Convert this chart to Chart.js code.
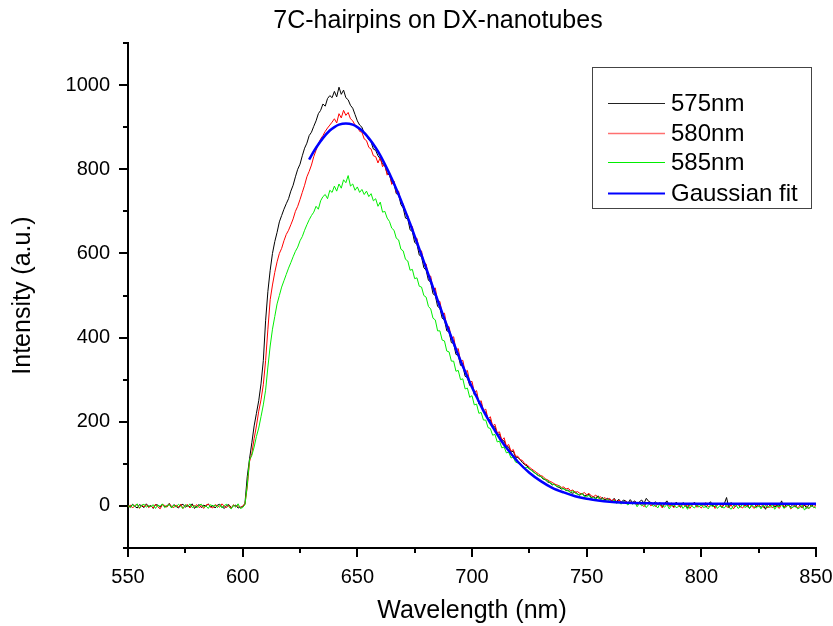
<!DOCTYPE html>
<html>
<head>
<meta charset="utf-8">
<title>7C-hairpins on DX-nanotubes</title>
<script src="https://cdn.jsdelivr.net/npm/chart.js@4.4.1/dist/chart.umd.min.js"></script>
<style>
  html, body { margin: 0; padding: 0; background: #fff; }
  #wrap { width: 833px; height: 626px; }
</style>
</head>
<body>
<div id="wrap"><canvas id="chart" width="833" height="626"></canvas></div>
<script>
/* ============================================================
   Emission spectra, 7C-hairpins on DX-nanotubes
   ============================================================ */

// ── Data (1 nm sampling 550..850) ────

const WL_FIRST = 550;
const WL_LAST = 850;

const spec575 = [
  2,-3,4,-1,-5,3,0,-4,5,-2,
  1,-6,3,2,-3,4,-2,0,6,-4,
  3,-1,-5,2,4,-3,1,-2,5,-6,
  0,3,-4,2,-1,5,-3,1,-5,2,
  4,-2,-6,1,3,-4,0,2,-5,-3,
  -2,6,70,112,150,190,220,250,290,345,
  440,510,560,600,628,650,675,690,705,718,
  730,748,762,782,800,812,832,850,862,880,
  888,902,915,932,940,955,950,968,975,970,
  985,972,995,978,988,970,965,952,945,930,
  915,905,900,885,880,870,865,848,845,832,
  825,812,808,790,786,768,765,742,740,716,
  708,684,682,656,652,626,622,596,592,566,
  560,536,532,504,500,474,470,446,442,416,
  414,388,386,360,358,334,333,308,305,286,
  286,264,265,242,243,224,223,204,205,188,
  188,170,171,154,155,141,140,128,130,116,
  115,110,103,98,95,88,85,80,76,72,
  70,64,62,57,55,50,52,46,44,40,
  42,36,38,32,30,34,28,26,30,24,
  25,28,20,22,18,24,16,20,14,18,
  15,12,18,10,16,8,14,12,6,15,
  8,12,4,10,14,6,18,11,8,5,
  10,3,8,-2,6,12,2,7,-3,9,
  4,-1,8,3,-4,6,2,9,-2,5,
  1,7,-3,4,10,0,-2,6,3,-4,
  5,20,-5,8,1,-1,4,-3,6,0,
  3,-6,2,7,-2,4,-4,1,-8,5,
  0,6,-3,2,-1,12,-5,3,1,-2,
  4,-3,7,0,-4,2,-6,5,-1,3,
  2
];

const spec580 = [
  -3,2,-5,1,4,-6,2,-2,3,-4,
  0,-5,4,-2,-7,3,1,-3,5,-1,
  -4,2,-3,4,-6,1,3,-5,2,-2,
  3,-4,1,-6,2,4,-2,-5,3,0,
  -3,5,-1,-4,2,-6,3,-2,1,-5,
  0,4,45,105,125,160,190,225,252,288,
  345,420,490,525,555,580,600,612,630,645,
  655,668,682,700,712,728,745,762,782,795,
  810,830,845,860,872,880,890,898,905,912,
  920,910,932,922,940,928,935,920,915,905,
  902,890,888,872,868,852,848,832,830,815,
  828,806,812,786,792,764,772,744,748,722,
  718,694,690,666,664,636,636,606,606,578,
  575,546,546,514,518,486,486,456,458,426,
  426,398,402,370,374,344,346,318,322,294,
  296,270,274,246,250,226,230,206,212,190,
  194,174,176,156,162,142,146,130,134,118,
  118,110,108,100,98,92,88,84,80,76,
  72,70,64,62,58,56,52,50,48,44,
  45,40,42,36,38,32,34,30,28,32,
  26,30,24,22,26,18,22,16,20,14,
  18,12,16,8,14,10,6,12,4,10,
  6,10,2,8,4,-2,6,9,0,5,
  -2,6,3,-5,4,8,-1,2,-4,6,
  1,-4,5,-2,3,-6,2,7,-3,0,
  -5,3,8,-2,0,4,-6,2,5,-3,
  6,-2,-4,3,-7,1,5,-1,-5,2,
  -3,4,0,-6,3,-2,6,-4,1,-5,
  2,-5,3,-1,-6,4,0,-3,5,-7,
  -2,3,-5,1,-4,6,-3,-6,2,-4,
  1
];

const spec585 = [
  1,-4,3,-2,5,-5,2,4,-3,1,
  -2,3,-6,2,-1,5,-4,0,3,-5,
  2,-3,4,-1,-6,3,-2,5,-4,1,
  -5,2,4,-3,0,-6,3,-1,2,-4,
  3,-5,1,4,-2,-7,2,-3,5,-6,
  -4,3,50,110,120,140,165,185,212,240,
  275,330,380,420,450,480,500,520,535,550,
  565,578,592,605,615,630,640,655,668,680,
  690,698,712,705,725,735,740,730,750,745,
  760,748,765,755,775,768,785,760,765,750,
  758,745,752,740,748,735,742,725,730,712,
  722,698,700,684,676,660,655,636,632,610,
  606,586,582,560,562,540,542,522,520,500,
  496,474,468,446,442,416,416,394,392,368,
  366,344,344,320,322,300,302,278,280,258,
  262,240,242,220,222,204,204,186,184,168,
  170,152,154,138,140,126,128,114,116,104,
  102,98,95,90,92,88,84,80,76,72,
  70,66,62,60,55,52,50,46,48,42,
  40,38,35,32,36,30,28,25,30,22,
  22,25,18,20,16,22,14,18,12,15,
  12,8,14,6,10,4,11,7,2,9,
  4,8,-2,6,0,5,-4,3,7,-1,
  2,-5,6,0,-3,4,-7,1,3,-4,
  -2,5,-6,1,-8,3,-1,-5,2,-3,
  4,-4,-1,-7,2,-2,5,-6,0,-3,
  -5,2,-3,-8,1,4,-6,-2,3,-4,
  0,-6,3,-2,-5,1,-7,2,-3,-1,
  -4,3,-8,0,-2,4,-6,-1,2,-5,
  -3,1,-7,-4,2,-10,-2,-6,1,-3,
  -5
];

// Gaussian fit curve (wavelength / intensity pairs)
const fitWl = [629,630,632,635,638,640,642,645,648,650,652,655,658,660,663,665,668,670,
  673,675,678,680,683,685,688,690,693,695,698,700,703,705,708,710,713,715,718,720,
  725,730,735,740,745,750,755,760,765,770,780,790,800,810,820,830,840,850];
const fitVals = [823,833,851,874,892,900,906,909,906,900,892,874,851,833,801,778,740,713,
  671,641,596,565,519,489,444,415,373,345,307,282,248,226,197,179,153,138,118,105,
  79,59,43,32,23,17,13,10,8,7,6,5,5,5,5,5,5,5];

const seriesNames = ['575nm', '580nm', '585nm', 'Gaussian fit'];
const seriesColors = ['#000000', '#ff0000', '#00ee00', '#0000ff'];

const xMajorTicks = [550, 600, 650, 700, 750, 800, 850];
const xMinorTicks = [575, 625, 675, 725, 775, 825];
const yMajorTicks = [0, 200, 400, 600, 800, 1000];
const yMinorTicks = [-100, 100, 300, 500, 700, 900, 1100];

const FONT = 'Arial, "Liberation Sans", sans-serif';

// ── Helpers ───────────────────────────────────────────────

function toPoints(vals) {
  var pts = [];
  for (var i = 0; i < vals.length; i++) {
    pts.push({ x: WL_FIRST + i, y: vals[i] });
  }
  return pts;
}

function zipPoints(xs, ys) {
  return xs.map(function (x, i) { return { x: x, y: ys[i] }; });
}

function lineSet(label, data, color, width, order) {
  return {
    label: label,
    data: data,
    borderColor: color,
    backgroundColor: color,
    borderWidth: width,
    pointRadius: 0,
    tension: 0,
    fill: false,
    order: order,
  };
}

// ── Plugins: ticks, title, legend box ─────────────────────

const decorPlugin = {
  id: 'decor',
  afterDraw: function (chart) {
    var ctx = chart.ctx;
    var area = chart.chartArea;
    var xs = chart.scales.x;
    var ys = chart.scales.y;

    ctx.save();
    ctx.strokeStyle = '#000';
    ctx.lineWidth = 2;

    // tick marks, outward
    function xTick(v, len) {
      var px = Math.round(xs.getPixelForValue(v));
      ctx.beginPath();
      ctx.moveTo(px, area.bottom);
      ctx.lineTo(px, area.bottom + len);
      ctx.stroke();
    }
    function yTick(v, len) {
      var py = Math.round(ys.getPixelForValue(v));
      ctx.beginPath();
      ctx.moveTo(area.left, py);
      ctx.lineTo(area.left - len, py);
      ctx.stroke();
    }
    xMajorTicks.forEach(function (v) { xTick(v, 9); });
    xMinorTicks.forEach(function (v) { xTick(v, 5); });
    yMajorTicks.forEach(function (v) { yTick(v, 9); });
    yMinorTicks.forEach(function (v) { yTick(v, 5); });

    // title
    ctx.fillStyle = '#000';
    ctx.font = '25px ' + FONT;
    ctx.textAlign = 'center';
    ctx.textBaseline = 'middle';
    ctx.fillText('7C-hairpins on DX-nanotubes', 438, 21);

    // legend
    var bx = 592, by = 67, bw = 219, bh = 141;
    ctx.lineWidth = 1;
    ctx.strokeStyle = '#444';
    ctx.strokeRect(bx + 0.5, by + 0.5, bw, bh);

    var rows = [103, 133, 162, 193];
    var widths = [1, 1.6, 1, 2];
    var sampleColors = ['#222', '#ff7070', '#00ee00', '#0000ff'];
    ctx.font = '24px ' + FONT;
    ctx.textAlign = 'left';
    for (var i = 0; i < seriesNames.length; i++) {
      ctx.strokeStyle = sampleColors[i];
      ctx.lineWidth = widths[i];
      ctx.beginPath();
      ctx.moveTo(608, rows[i] + 0.5);
      ctx.lineTo(665, rows[i] + 0.5);
      ctx.stroke();
      ctx.fillStyle = '#000';
      ctx.fillText(seriesNames[i], 671, rows[i] + 1);
    }
    ctx.restore();
  },
};

// ── Chart ─────────────────────────────────────────────────

new Chart(document.getElementById('chart'), {
  type: 'line',
  data: {
    datasets: [
      lineSet(seriesNames[0], toPoints(spec575), seriesColors[0], 1, 3),
      lineSet(seriesNames[1], toPoints(spec580), seriesColors[1], 1, 2),
      lineSet(seriesNames[2], toPoints(spec585), seriesColors[2], 1, 1),
      Object.assign(lineSet(seriesNames[3], zipPoints(fitWl, fitVals), seriesColors[3], 2.5, 0), {
        cubicInterpolationMode: 'monotone',
      }),
    ],
  },
  options: {
    responsive: false,
    animation: false,
    events: [],
    layout: { padding: { left: 0, top: 43, right: 17, bottom: 0 } },
    plugins: {
      legend: { display: false },
      title: { display: false },
      tooltip: { enabled: false },
    },
    scales: {
      x: {
        type: 'linear',
        min: 550,
        max: 850,
        afterFit: function (scale) {
          scale.height = 78;
          // keep the last label from pushing the plot edge inward
          scale.paddingLeft = 0;
          scale.paddingRight = 0;
        },
        grid: { display: false, drawTicks: false },
        border: { display: true, color: '#000', width: 2 },
        ticks: {
          stepSize: 50,
          autoSkip: false,
          maxRotation: 0,
          padding: 17,
          color: '#000',
          font: { family: FONT, size: 20 },
          callback: function (v) { return xMajorTicks.indexOf(v) >= 0 ? String(v) : ''; },
        },
        title: {
          display: true,
          text: 'Wavelength (nm)',
          color: '#000',
          font: { family: FONT, size: 25 },
          padding: { top: 0, bottom: 0 },
        },
      },
      y: {
        type: 'linear',
        min: -100,
        max: 1100,
        afterFit: function (scale) { scale.width = 128; },
        grid: { display: false, drawTicks: false },
        border: { display: true, color: '#000', width: 2 },
        ticks: {
          stepSize: 100,
          autoSkip: false,
          padding: 18,
          color: '#000',
          font: { family: FONT, size: 20 },
          callback: function (v) { return yMajorTicks.indexOf(v) >= 0 ? String(v) : ''; },
        },
        title: {
          display: true,
          text: 'Intensity (a.u.)',
          color: '#000',
          font: { family: FONT, size: 25 },
          padding: { top: 8, bottom: 0 },
        },
      },
    },
  },
  plugins: [decorPlugin],
});
</script>
</body>
</html>
